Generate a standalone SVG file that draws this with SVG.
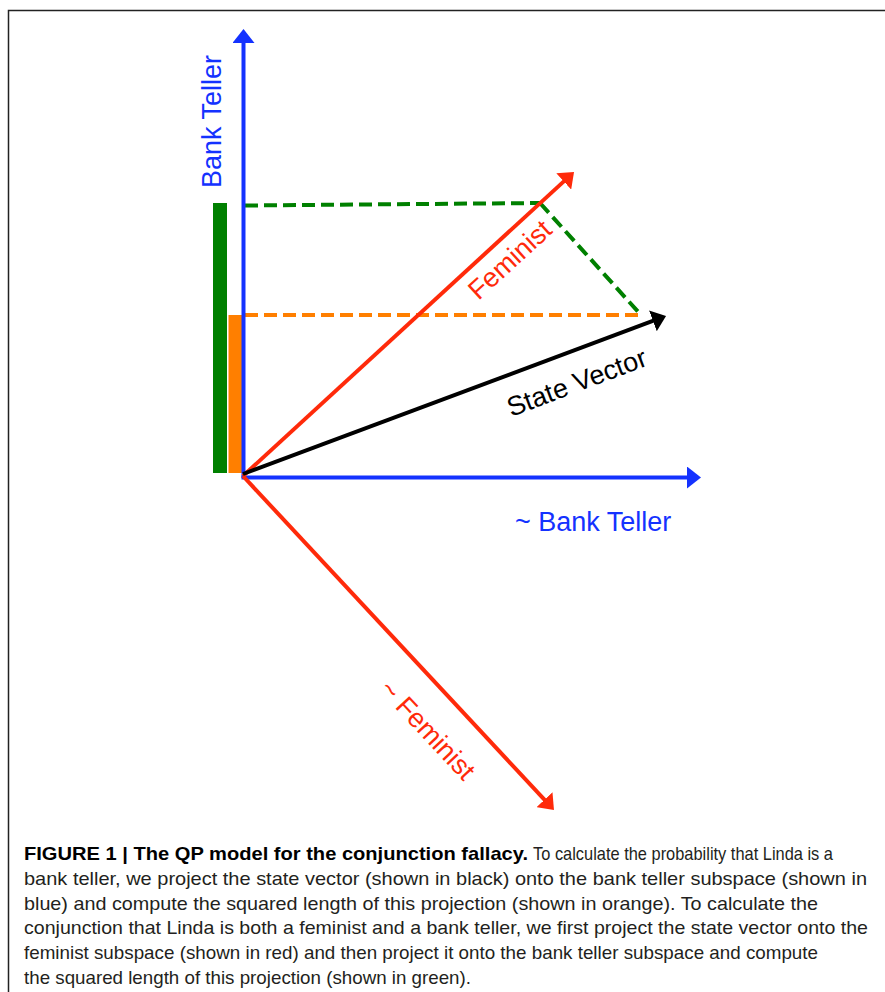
<svg xmlns="http://www.w3.org/2000/svg" width="885" height="992" viewBox="0 0 885 992">
<style>
.lbl{font-family:"Liberation Sans",Arial,sans-serif;font-size:27px}
.blue{fill:#1432ff}
.red{fill:#ff2a0a}
.blk{fill:#000}
.ax{fill:none;stroke-width:4;stroke-linecap:butt}
.dash{fill:none;stroke-width:4;stroke-dasharray:13 6}
.cap{font-family:"Liberation Sans",Arial,sans-serif;font-size:19px;fill:#231f20}
.capb{font-weight:bold;fill:#000}
</style>
<defs>
<marker id="mb" viewBox="0 0 14 22" markerWidth="14" markerHeight="22" markerUnits="userSpaceOnUse" refX="2" refY="11" orient="auto"><path d="M0,0 L14,11 L0,22 z" fill="#1432ff"/></marker>
<marker id="mr" viewBox="0 0 14 22" markerWidth="14" markerHeight="22" markerUnits="userSpaceOnUse" refX="2" refY="11" orient="auto"><path d="M0,0 L14,11 L0,22 z" fill="#ff2a0a"/></marker>
<marker id="mk" viewBox="0 0 14 22" markerWidth="14" markerHeight="22" markerUnits="userSpaceOnUse" refX="2" refY="11" orient="auto"><path d="M0,0 L14,11 L0,22 z" fill="#000"/></marker>
</defs>
<rect width="885" height="992" fill="#fff"/>
<g id="frame" fill="none" stroke="#222" stroke-width="1.5">
<path d="M8.5,992 L8.5,10.5 L885,10.5"/>
</g>
<g id="bars">
<rect id="green-bar" x="213" y="203" width="14" height="270" fill="#008000"/>
<rect id="orange-bar" x="228.5" y="315" width="13.5" height="158" fill="#ff7f00"/>
</g>
<g id="connectors">
<path id="orange-proj" class="dash" stroke="#ff7f00" d="M245,315 L641,315"/>
<path id="green-proj-h" class="dash" stroke="#008000" d="M245,205.5 L540,203"/>
<path id="green-proj-d" class="dash" stroke="#008000" d="M540,203 L641,315"/>
<path id="axis-bt" class="ax" stroke="#1432ff" d="M243.5,478 L243.5,41" marker-end="url(#mb)"/>
<path id="axis-nbt" class="ax" stroke="#1432ff" d="M241.5,477.5 L689,477.5" marker-end="url(#mb)"/>
<path id="vec-fem" class="ax" stroke="#ff2a0a" d="M243,476 L565.2,180.1" marker-end="url(#mr)"/>
<path id="vec-nfem" class="ax" stroke="#ff2a0a" d="M243,476 L545.8,801.2" marker-end="url(#mr)"/>
<path id="vec-state" class="ax" stroke="#000" d="M243,474 L654.8,320.2" marker-end="url(#mk)"/>
</g>
<g id="label-bank-teller"><text class="lbl blue" text-anchor="middle" transform="translate(221,121.5) rotate(-90)">Bank Teller</text></g>
<g id="label-not-bank-teller"><text class="lbl blue" x="515" y="531">~ Bank Teller</text></g>
<g id="label-feminist"><text class="lbl red" text-anchor="middle" transform="translate(516,266.5) rotate(-42.5)">Feminist</text></g>
<g id="label-not-feminist"><text class="lbl red" text-anchor="middle" transform="translate(421,736) rotate(47)">~ Feminist</text></g>
<g id="label-state"><text class="lbl blk" text-anchor="middle" transform="translate(580,391) rotate(-20.7)">State Vector</text></g>
<g id="caption">
<text class="cap capb" x="24" y="860" textLength="504" lengthAdjust="spacingAndGlyphs">FIGURE 1 | The QP model for the conjunction fallacy.</text>
<text class="cap" x="533" y="860" textLength="300" lengthAdjust="spacingAndGlyphs">To calculate the probability that Linda is a</text>
<text class="cap" x="24" y="885" textLength="843" lengthAdjust="spacingAndGlyphs">bank teller, we project the state vector (shown in black) onto the bank teller subspace (shown in</text>
<text class="cap" x="24" y="910" textLength="794" lengthAdjust="spacingAndGlyphs">blue) and compute the squared length of this projection (shown in orange). To calculate the</text>
<text class="cap" x="24" y="934" textLength="844" lengthAdjust="spacingAndGlyphs">conjunction that Linda is both a feminist and a bank teller, we first project the state vector onto the</text>
<text class="cap" x="24" y="959" textLength="794" lengthAdjust="spacingAndGlyphs">feminist subspace (shown in red) and then project it onto the bank teller subspace and compute</text>
<text class="cap" x="24" y="984" textLength="447" lengthAdjust="spacingAndGlyphs">the squared length of this projection (shown in green).</text>
</g>
</svg>
